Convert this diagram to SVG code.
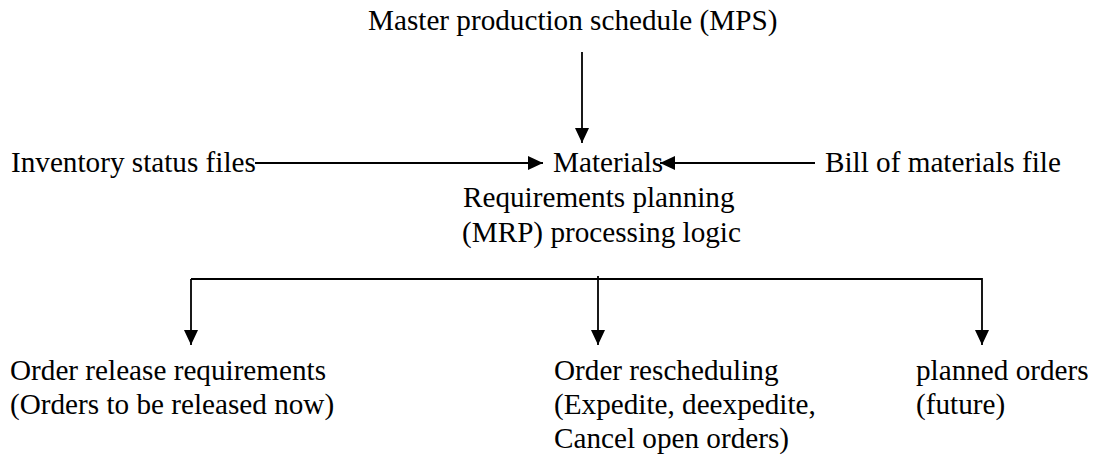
<svg xmlns="http://www.w3.org/2000/svg" width="1096" height="456" viewBox="0 0 1096 456">
<style>
text{font-family:"Liberation Serif","DejaVu Serif",serif;font-size:29.2px;fill:#000}
.c{stroke:#000;stroke-width:1.8;fill:none}
</style>
<defs>
<marker id="ah" markerUnits="userSpaceOnUse" markerWidth="15" markerHeight="14" refX="15" refY="7" orient="auto">
<path d="M0,0 L15,7 L0,14 z" fill="#000"/>
</marker>
</defs>
<rect width="1096" height="456" fill="#fff"/>
<g id="mps"><text x="368" y="30">Master production schedule (MPS)</text></g>
<g id="inventory"><text x="11" y="172">Inventory status files</text></g>
<g id="bom"><text x="825" y="172">Bill of materials file</text></g>
<g id="mrp">
<text x="553" y="172">Materials</text>
<text x="463" y="207">Requirements planning</text>
<text x="462" y="242">(MRP) processing logic</text>
</g>
<g id="release">
<text x="10" y="380">Order release requirements</text>
<text x="10" y="414">(Orders to be released now)</text>
</g>
<g id="reschedule">
<text x="554" y="380">Order rescheduling</text>
<text x="554" y="414">(Expedite, deexpedite,</text>
<text x="554" y="448">Cancel open orders)</text>
</g>
<g id="planned">
<text x="916" y="380">planned orders</text>
<text x="916" y="414">(future)</text>
</g>
<g id="connectors">
<line class="c" x1="582" y1="52" x2="582" y2="143" marker-end="url(#ah)"/>
<line class="c" x1="255" y1="163" x2="543" y2="163" marker-end="url(#ah)"/>
<line class="c" x1="815" y1="163" x2="660" y2="163" marker-end="url(#ah)"/>
<polyline class="c" points="191,279 982,279 982,345" marker-end="url(#ah)"/>
<line class="c" x1="191" y1="279" x2="191" y2="345" marker-end="url(#ah)"/>
<line class="c" x1="598" y1="276" x2="598" y2="345" marker-end="url(#ah)"/>
</g>
</svg>
